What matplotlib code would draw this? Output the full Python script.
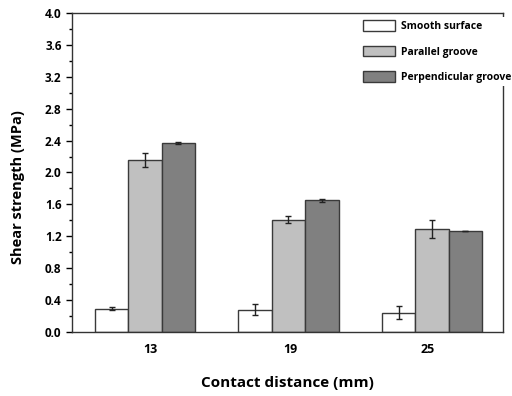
import matplotlib.pyplot as plt
import numpy as np

distances = ['13', '19', '25']
smooth = [0.29, 0.28, 0.24]
smooth_err = [0.02, 0.065, 0.08]
parallel = [2.16, 1.41, 1.29]
parallel_err = [0.09, 0.04, 0.11]
perpendicular = [2.37, 1.65, 1.27]
perpendicular_err = [0.01, 0.02, 0.0]

plt.rcParams['font.family'] = ['Open Sans', 'DejaVu Sans']
plt.rcParams['font.weight'] = 'bold'

fig = plt.figure(figsize=(5.12, 3.96), dpi=100)
ax = fig.add_axes([0.1406, 0.1616, 0.8418, 0.8056])

x = np.arange(len(distances))
w = 0.233
edge = '#3a3a3a'
err_kw = dict(ecolor='#222222', elinewidth=1, capsize=2.5, capthick=1)
ax.bar(x - w, smooth, w, yerr=smooth_err, color='white', edgecolor=edge,
       linewidth=1, label='Smooth surface', error_kw=err_kw)
ax.bar(x, parallel, w, yerr=parallel_err, color='#c0c0c0', edgecolor=edge,
       linewidth=1, label='Parallel groove', error_kw=err_kw)
ax.bar(x + w, perpendicular, w, yerr=perpendicular_err, color='#808080', edgecolor=edge,
       linewidth=1, label='Perpendicular groove', error_kw=err_kw)

ax.set_xlim(-0.509, 2.495)
ax.set_ylim(0, 4.0)
ax.set_yticks(np.arange(0, 4.01, 0.4))
ax.set_yticks(np.arange(0, 4.01, 0.2), minor=True)
ax.set_xticks(x + np.array([0.04, 0.01, -0.03]))
ax.set_xticklabels(distances)
ax.tick_params(axis='x', length=0, pad=8, labelsize=9)
ax.tick_params(axis='y', which='major', length=4, width=1, labelsize=8.5)
ax.tick_params(axis='y', which='minor', length=2, width=1)
for s in ax.spines.values():
    s.set_color('#333333')
    s.set_linewidth(1)

ax.set_xlabel('Contact distance (mm)', fontsize=11, fontweight='bold', labelpad=14)
ax.set_ylabel('Shear strength (MPa)', fontsize=10.5, fontweight='bold')
ax.yaxis.set_label_coords(-0.11, 0.455)

leg = ax.legend(loc='upper left', bbox_to_anchor=(355 / 512, 1 - 12 / 396),
                bbox_transform=fig.transFigure, frameon=True, fancybox=False,
                edgecolor='none', facecolor='white', framealpha=1,
                fontsize=7.5, handlelength=3.0, handleheight=1.2,
                labelspacing=1.3, handletextpad=0.6, borderpad=0.3)

fig.savefig('out.png', dpi=100)
